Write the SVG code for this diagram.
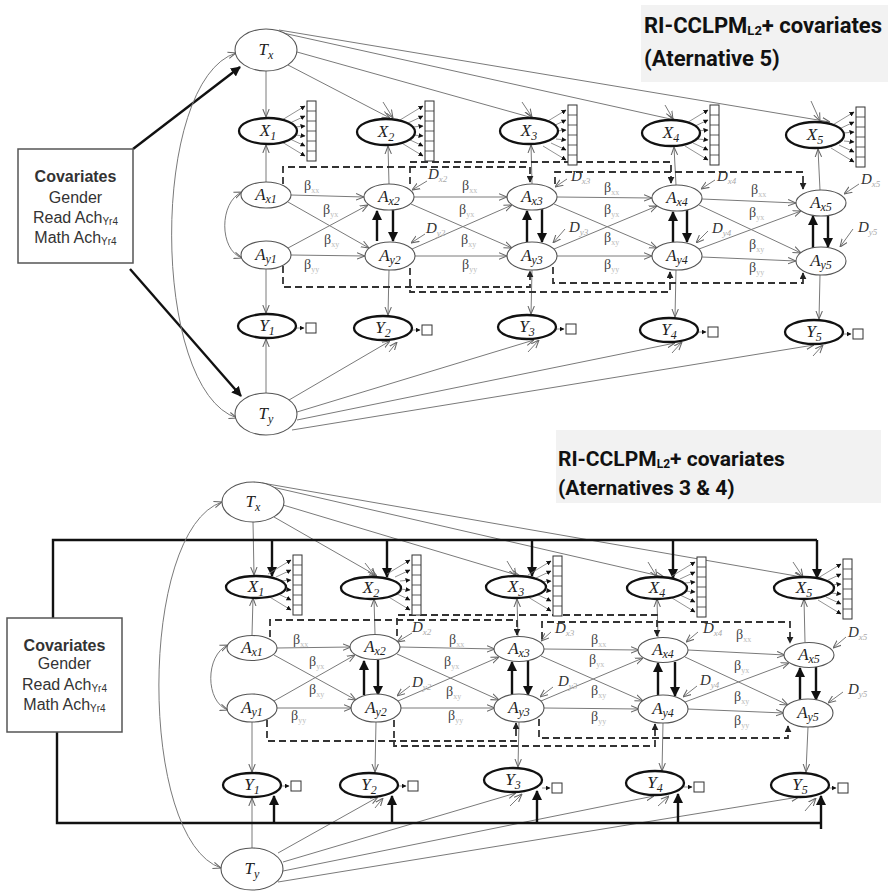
<svg xmlns="http://www.w3.org/2000/svg" width="889" height="891" viewBox="0 0 889 891">
<style>
.n{fill:#fff;stroke:#555;stroke-width:1.1}
.m{fill:#fff;stroke:#111;stroke-width:2.3}
.lab{font-family:"Liberation Serif",serif;font-style:italic;font-size:17px;fill:#222;text-anchor:middle}
.s{font-size:12px}
.c{stroke:#7a7a7a;stroke-width:1;fill:none;marker-end:url(#ah)}
.c2{stroke:#7a7a7a;stroke-width:1;fill:none;marker-start:url(#ah);marker-end:url(#ah)}
.k{stroke:#111;stroke-width:2.4;fill:none;marker-end:url(#ahk)}
.kl{stroke:#111;stroke-width:2.4;fill:none}
.d{stroke:#333;stroke-width:1.8;fill:none;stroke-dasharray:7 4;marker-end:url(#ahd)}
.ia{stroke:#777;stroke-width:0.8;marker-end:url(#ahs)}
.ib{fill:#fff;stroke:#333;stroke-width:1}
.b{font-family:"Liberation Serif",serif;font-size:14px;fill:#444}
.bs{font-size:8px;fill:#bbb}
.dl{font-family:"Liberation Serif",serif;font-style:italic;font-size:15px;fill:#333}
.ds{font-size:9px;fill:#aaa}
.cv{font-family:"Liberation Sans",Arial,sans-serif;font-size:16px;fill:#333;text-anchor:middle}
.cvb{font-weight:bold}
.cs{font-size:10px}
.cbox{fill:#fff;stroke:#555;stroke-width:1.5}
.tbox{fill:#f2f2f2;stroke:none}
.tt{font-family:Roboto,"Liberation Sans",sans-serif;font-weight:700;fill:#111}
</style>
<defs>
<marker id="ah" viewBox="0 0 10 10" refX="10" refY="5" markerWidth="8" markerHeight="8" markerUnits="userSpaceOnUse" orient="auto-start-reverse"><path d="M0,1L10,5L0,9" fill="none" stroke="#666" stroke-width="1.3"/></marker>
<marker id="ahk" viewBox="0 0 10 10" refX="9" refY="5" markerWidth="10" markerHeight="10" markerUnits="userSpaceOnUse" orient="auto"><path d="M0,0L10,5L0,10z" fill="#111"/></marker>
<marker id="ahs" viewBox="0 0 10 10" refX="9" refY="5" markerWidth="5" markerHeight="5" markerUnits="userSpaceOnUse" orient="auto"><path d="M0,0L10,5L0,10z" fill="#111"/></marker>
<marker id="ahd" viewBox="0 0 10 10" refX="9" refY="5" markerWidth="7" markerHeight="7" markerUnits="userSpaceOnUse" orient="auto"><path d="M0,0L10,5L0,10z" fill="#222"/></marker>
<g id="xind">
<line class="ia" x1="14" y1="-11" x2="37" y2="-25"/>
<line class="ia" x1="22" y1="-8" x2="37" y2="-15"/>
<line class="ia" x1="27" y1="-4" x2="37" y2="-5"/>
<line class="ia" x1="27" y1="4" x2="37" y2="5"/>
<line class="ia" x1="22" y1="8" x2="37" y2="15"/>
<line class="ia" x1="14" y1="11" x2="37" y2="25"/>
<rect class="ib" x="39" y="-30" width="9" height="60"/>
<path d="M39,-20H48M39,-10H48M39,0H48M39,10H48M39,20H48" stroke="#333" stroke-width="0.8"/>
</g>
<g id="ysq"><line class="ia" x1="29" y1="2" x2="37" y2="2"/><rect class="ib" x="39" y="-3" width="10" height="10"/></g>
</defs>
<rect width="889" height="891" fill="#fff"/>

<g id="title-top">
<rect class="tbox" x="641" y="5" width="247" height="77"/>
<text class="tt" x="644" y="33" font-size="22">RI-CCLPM<tspan font-size="13" dy="2">L2</tspan><tspan dy="-2">+ covariates</tspan></text>
<text class="tt" x="644" y="66" font-size="22">(Aternative 5)</text>
</g>
<g id="title-bottom">
<rect class="tbox" x="556" y="430" width="325" height="73"/>
<text class="tt" x="558" y="466" font-size="21">RI-CCLPM<tspan font-size="12" dy="2">L2</tspan><tspan dy="-2">+ covariates</tspan></text>
<text class="tt" x="558" y="495" font-size="21">(Aternatives 3 &amp; 4)</text>
</g>

<g id="connectors">
<g id="connectors-top">
<line class="c" x1="266" y1="71" x2="266" y2="117"/>
<line class="c" x1="288" y1="65" x2="390" y2="118"/>
<line class="c" x1="297" y1="52" x2="533" y2="118"/>
<line class="c" x1="283" y1="33" x2="675" y2="120"/>
<line class="c" x1="279" y1="30" x2="830" y2="122"/>
<line class="c" x1="383" y1="102" x2="393" y2="118"/>
<line class="c" x1="522" y1="102" x2="532" y2="117"/>
<line class="c" x1="665" y1="105" x2="673" y2="119"/>
<line class="c" x1="811" y1="101" x2="820" y2="121"/>
<line class="c" x1="266" y1="182" x2="266" y2="145"/>
<line class="c" x1="389" y1="184" x2="388" y2="146"/>
<line class="c" x1="532" y1="184" x2="531" y2="145"/>
<line class="c" x1="676" y1="185" x2="674" y2="147"/>
<line class="c" x1="820" y1="190" x2="818" y2="149"/>
<line class="c" x1="266" y1="269" x2="266" y2="313"/>
<line class="c" x1="389" y1="270" x2="388" y2="315"/>
<line class="c" x1="532" y1="270" x2="531" y2="314"/>
<line class="c" x1="676" y1="270" x2="675" y2="317"/>
<line class="c" x1="820" y1="275" x2="819" y2="319"/>
<line class="c" x1="266" y1="393" x2="266" y2="339"/>
<line class="c" x1="289" y1="400" x2="390" y2="341"/>
<line class="c" x1="297" y1="412" x2="534" y2="340"/>
<line class="c" x1="297" y1="420" x2="675" y2="343"/>
<line class="c" x1="292" y1="430" x2="814" y2="345"/>
<line class="c" x1="389" y1="352" x2="397" y2="342"/>
<line class="c" x1="528" y1="352" x2="539" y2="340"/>
<line class="c" x1="672" y1="353" x2="682" y2="342"/>
<line class="c" x1="813" y1="356" x2="823" y2="345"/>
<line class="c" x1="291" y1="195" x2="364" y2="197"/>
<line class="c" x1="414" y1="197" x2="507" y2="197"/>
<line class="c" x1="557" y1="197" x2="652" y2="198"/>
<line class="c" x1="702" y1="199" x2="796" y2="203"/>
<line class="c" x1="291" y1="255" x2="365" y2="256"/>
<line class="c" x1="415" y1="256" x2="507" y2="256"/>
<line class="c" x1="557" y1="256" x2="652" y2="256"/>
<line class="c" x1="702" y1="257" x2="796" y2="261"/>
<line class="c" x1="288" y1="202" x2="369" y2="248"/>
<line class="c" x1="288" y1="248" x2="368" y2="205"/>
<line class="c" x1="411" y1="204" x2="512" y2="248"/>
<line class="c" x1="412" y1="249" x2="512" y2="205"/>
<line class="c" x1="554" y1="204" x2="657" y2="248"/>
<line class="c" x1="554" y1="249" x2="657" y2="206"/>
<line class="c" x1="699" y1="205" x2="801" y2="253"/>
<line class="c" x1="699" y1="249" x2="801" y2="211"/>
<line class="c" x1="427" y1="181" x2="412" y2="190"/>
<line class="c" x1="567" y1="179" x2="555" y2="187"/>
<line class="c" x1="715" y1="180" x2="701" y2="189"/>
<line class="c" x1="859" y1="184" x2="844" y2="194"/>
<line class="c" x1="425" y1="234" x2="411" y2="243"/>
<line class="c" x1="565" y1="229" x2="553" y2="243"/>
<line class="c" x1="708" y1="231" x2="696" y2="243"/>
<line class="c" x1="853" y1="229" x2="840" y2="247"/>
<line class="k" x1="377" y1="241" x2="377" y2="211"/>
<line class="k" x1="393" y1="209" x2="393" y2="241"/>
<line class="k" x1="527" y1="242" x2="527" y2="211"/>
<line class="k" x1="542" y1="209" x2="542" y2="242"/>
<line class="k" x1="673" y1="243" x2="673" y2="212"/>
<line class="k" x1="687" y1="210" x2="687" y2="242"/>
<line class="k" x1="813" y1="248" x2="813" y2="216"/>
<line class="k" x1="828" y1="215" x2="828" y2="247"/>
<path class="d" d="M283,184V167H530V182"/>
<path class="d" d="M410,184V162H671V183"/>
<path class="d" d="M555,184V172H803V189"/>
<path class="d" d="M283,266V287H530V271"/>
<path class="d" d="M410,268V292H670V272"/>
<path class="d" d="M553,267V283H803V273"/>
<line class="k" x1="133" y1="149" x2="240" y2="67"/>
<line class="k" x1="130" y1="269" x2="241" y2="396"/>
<path class="c2" d="M236,53C150,80 150,390 237,418"/>
<path class="c2" d="M242,192C219,202 219,250 242,258"/>
</g>
<g id="connectors-bottom">
<line class="c" x1="253" y1="522" x2="254" y2="575"/>
<line class="c" x1="274" y1="517" x2="377" y2="576"/>
<line class="c" x1="283" y1="505" x2="520" y2="576"/>
<line class="c" x1="268" y1="486" x2="664" y2="577"/>
<line class="c" x1="262" y1="483" x2="802" y2="577"/>
<line class="c" x1="365" y1="563" x2="375" y2="576"/>
<line class="c" x1="507" y1="561" x2="516" y2="576"/>
<line class="c" x1="648" y1="562" x2="657" y2="577"/>
<line class="c" x1="793" y1="562" x2="803" y2="577"/>
<line class="c" x1="252" y1="635" x2="253" y2="598"/>
<line class="c" x1="375" y1="634" x2="374" y2="599"/>
<line class="c" x1="518" y1="636" x2="517" y2="599"/>
<line class="c" x1="658" y1="637" x2="657" y2="599"/>
<line class="c" x1="805" y1="642" x2="804" y2="599"/>
<line class="c" x1="252" y1="722" x2="252" y2="772"/>
<line class="c" x1="376" y1="722" x2="375" y2="772"/>
<line class="c" x1="519" y1="722" x2="518" y2="767"/>
<line class="c" x1="663" y1="723" x2="662" y2="771"/>
<line class="c" x1="808" y1="727" x2="806" y2="772"/>
<line class="c" x1="252" y1="848" x2="252" y2="798"/>
<line class="c" x1="278" y1="853" x2="378" y2="797"/>
<line class="c" x1="283" y1="862" x2="516" y2="793"/>
<line class="c" x1="283" y1="871" x2="654" y2="796"/>
<line class="c" x1="278" y1="882" x2="799" y2="797"/>
<line class="c" x1="375" y1="808" x2="383" y2="798"/>
<line class="c" x1="510" y1="806" x2="522" y2="794"/>
<line class="c" x1="658" y1="806" x2="669" y2="796"/>
<line class="c" x1="805" y1="811" x2="816" y2="798"/>
<line class="c" x1="277" y1="648" x2="351" y2="647"/>
<line class="c" x1="400" y1="647" x2="495" y2="649"/>
<line class="c" x1="544" y1="649" x2="639" y2="650"/>
<line class="c" x1="688" y1="650" x2="785" y2="655"/>
<line class="c" x1="277" y1="708" x2="352" y2="708"/>
<line class="c" x1="401" y1="708" x2="495" y2="708"/>
<line class="c" x1="544" y1="708" x2="639" y2="709"/>
<line class="c" x1="688" y1="709" x2="784" y2="713"/>
<line class="c" x1="274" y1="655" x2="356" y2="700"/>
<line class="c" x1="274" y1="701" x2="355" y2="655"/>
<line class="c" x1="397" y1="654" x2="499" y2="700"/>
<line class="c" x1="398" y1="701" x2="499" y2="657"/>
<line class="c" x1="541" y1="656" x2="643" y2="701"/>
<line class="c" x1="541" y1="701" x2="643" y2="658"/>
<line class="c" x1="685" y1="657" x2="788" y2="705"/>
<line class="c" x1="685" y1="702" x2="789" y2="663"/>
<line class="c" x1="412" y1="633" x2="397" y2="642"/>
<line class="c" x1="551" y1="632" x2="541" y2="641"/>
<line class="c" x1="698" y1="632" x2="686" y2="642"/>
<line class="c" x1="846" y1="637" x2="833" y2="648"/>
<line class="c" x1="410" y1="686" x2="397" y2="696"/>
<line class="c" x1="553" y1="687" x2="540" y2="697"/>
<line class="c" x1="697" y1="686" x2="683" y2="697"/>
<line class="c" x1="843" y1="692" x2="828" y2="703"/>
<line class="k" x1="364" y1="695" x2="364" y2="661"/>
<line class="k" x1="378" y1="660" x2="378" y2="695"/>
<line class="k" x1="512" y1="695" x2="512" y2="662"/>
<line class="k" x1="528" y1="661" x2="528" y2="695"/>
<line class="k" x1="658" y1="696" x2="658" y2="663"/>
<line class="k" x1="675" y1="662" x2="675" y2="696"/>
<line class="k" x1="800" y1="700" x2="800" y2="668"/>
<line class="k" x1="816" y1="667" x2="816" y2="700"/>
<path class="d" d="M270,637V620H517V635"/>
<path class="d" d="M397,636V615H657V636"/>
<path class="d" d="M542,639V622H790V643"/>
<path class="d" d="M267,720V741H516V723"/>
<path class="d" d="M394,720V746H655V724"/>
<path class="d" d="M539,719V738H788V726"/>
<path class="kl" d="M53,618V540H817"/>
<line class="k" x1="272" y1="540" x2="272" y2="576"/>
<line class="k" x1="387" y1="540" x2="387" y2="577"/>
<line class="k" x1="532" y1="540" x2="532" y2="576"/>
<line class="k" x1="673" y1="540" x2="673" y2="578"/>
<line class="k" x1="817" y1="540" x2="817" y2="578"/>
<path class="kl" d="M57,732V823H822"/>
<line class="k" x1="274" y1="823" x2="274" y2="796"/>
<line class="k" x1="392" y1="823" x2="392" y2="796"/>
<line class="k" x1="537" y1="823" x2="537" y2="791"/>
<line class="k" x1="678" y1="823" x2="678" y2="794"/>
<line class="k" x1="821" y1="829" x2="821" y2="796"/>
<path class="c2" d="M222,502C138,530 138,840 221,868"/>
<path class="c2" d="M228,645C205,655 205,702 228,710"/>
</g>
</g>

<g id="path-labels">
<text class="b" x="304" y="190">β<tspan class="bs" dy="3">xx</tspan></text>
<text class="b" x="323" y="214">β<tspan class="bs" dy="3">yx</tspan></text>
<text class="b" x="324" y="244">β<tspan class="bs" dy="3">xy</tspan></text>
<text class="b" x="304" y="269">β<tspan class="bs" dy="3">yy</tspan></text>
<text class="b" x="462" y="190">β<tspan class="bs" dy="3">xx</tspan></text>
<text class="b" x="459" y="214">β<tspan class="bs" dy="3">yx</tspan></text>
<text class="b" x="461" y="244">β<tspan class="bs" dy="3">xy</tspan></text>
<text class="b" x="462" y="269">β<tspan class="bs" dy="3">yy</tspan></text>
<text class="b" x="604" y="192">β<tspan class="bs" dy="3">xx</tspan></text>
<text class="b" x="604" y="214">β<tspan class="bs" dy="3">yx</tspan></text>
<text class="b" x="604" y="242">β<tspan class="bs" dy="3">xy</tspan></text>
<text class="b" x="604" y="269">β<tspan class="bs" dy="3">yy</tspan></text>
<text class="b" x="751" y="194">β<tspan class="bs" dy="3">xx</tspan></text>
<text class="b" x="749" y="217">β<tspan class="bs" dy="3">yx</tspan></text>
<text class="b" x="749" y="249">β<tspan class="bs" dy="3">xy</tspan></text>
<text class="b" x="749" y="272">β<tspan class="bs" dy="3">yy</tspan></text>
<text class="dl" x="428" y="179">D<tspan class="ds" dy="3">x2</tspan></text>
<text class="dl" x="426" y="233">D<tspan class="ds" dy="3">y2</tspan></text>
<text class="dl" x="571" y="181">D<tspan class="ds" dy="3">x3</tspan></text>
<text class="dl" x="569" y="232">D<tspan class="ds" dy="3">y3</tspan></text>
<text class="dl" x="717" y="181">D<tspan class="ds" dy="3">x4</tspan></text>
<text class="dl" x="712" y="233">D<tspan class="ds" dy="3">y4</tspan></text>
<text class="dl" x="861" y="184">D<tspan class="ds" dy="3">x5</tspan></text>
<text class="dl" x="858" y="232">D<tspan class="ds" dy="3">y5</tspan></text>
<text class="b" x="293" y="644">β<tspan class="bs" dy="3">xx</tspan></text>
<text class="b" x="309" y="666">β<tspan class="bs" dy="3">yx</tspan></text>
<text class="b" x="309" y="694">β<tspan class="bs" dy="3">xy</tspan></text>
<text class="b" x="291" y="720">β<tspan class="bs" dy="3">yy</tspan></text>
<text class="b" x="449" y="644">β<tspan class="bs" dy="3">xx</tspan></text>
<text class="b" x="444" y="666">β<tspan class="bs" dy="3">yx</tspan></text>
<text class="b" x="446" y="696">β<tspan class="bs" dy="3">xy</tspan></text>
<text class="b" x="448" y="720">β<tspan class="bs" dy="3">yy</tspan></text>
<text class="b" x="591" y="644">β<tspan class="bs" dy="3">xx</tspan></text>
<text class="b" x="589" y="664">β<tspan class="bs" dy="3">yx</tspan></text>
<text class="b" x="591" y="695">β<tspan class="bs" dy="3">xy</tspan></text>
<text class="b" x="591" y="721">β<tspan class="bs" dy="3">yy</tspan></text>
<text class="b" x="736" y="639">β<tspan class="bs" dy="3">xx</tspan></text>
<text class="b" x="734" y="670">β<tspan class="bs" dy="3">yx</tspan></text>
<text class="b" x="734" y="701">β<tspan class="bs" dy="3">xy</tspan></text>
<text class="b" x="734" y="725">β<tspan class="bs" dy="3">yy</tspan></text>
<text class="dl" x="412" y="632">D<tspan class="ds" dy="3">x2</tspan></text>
<text class="dl" x="412" y="687">D<tspan class="ds" dy="3">y2</tspan></text>
<text class="dl" x="555" y="633">D<tspan class="ds" dy="3">x3</tspan></text>
<text class="dl" x="558" y="686">D<tspan class="ds" dy="3">y3</tspan></text>
<text class="dl" x="703" y="633">D<tspan class="ds" dy="3">x4</tspan></text>
<text class="dl" x="700" y="685">D<tspan class="ds" dy="3">y4</tspan></text>
<text class="dl" x="848" y="637">D<tspan class="ds" dy="3">x5</tspan></text>
<text class="dl" x="848" y="694">D<tspan class="ds" dy="3">y5</tspan></text>
</g>

<g id="top-cov"><rect class="cbox" x="18" y="149" width="115" height="114"/>
<text class="cv cvb" x="75.5" y="182">Covariates</text>
<text class="cv" x="75.5" y="203">Gender</text>
<text class="cv" x="75.5" y="223">Read Ach<tspan class="cs" dy="2">Yr4</tspan></text>
<text class="cv" x="75.5" y="243">Math Ach<tspan class="cs" dy="2">Yr4</tspan></text></g>
<g id="top-Tx"><ellipse class="n" cx="266" cy="50" rx="31" ry="21"/><text class="lab" x="266" y="55">T<tspan class="s" dy="4">x</tspan></text></g>
<g id="top-Ty"><ellipse class="n" cx="266" cy="414" rx="31" ry="21"/><text class="lab" x="266" y="419">T<tspan class="s" dy="4">y</tspan></text></g>
<g id="top-X1"><use href="#xind" x="268" y="131"/><ellipse class="m" cx="268" cy="131" rx="29" ry="13"/><text class="lab" x="268" y="136">X<tspan class="s" dy="4">1</tspan></text></g>
<g id="top-X2"><use href="#xind" x="386" y="131"/><ellipse class="m" cx="386" cy="132" rx="29" ry="13"/><text class="lab" x="386" y="137">X<tspan class="s" dy="4">2</tspan></text></g>
<g id="top-X3"><use href="#xind" x="529" y="135"/><ellipse class="m" cx="529" cy="131" rx="29" ry="13"/><text class="lab" x="529" y="136">X<tspan class="s" dy="4">3</tspan></text></g>
<g id="top-X4"><use href="#xind" x="671" y="135"/><ellipse class="m" cx="671" cy="133" rx="29" ry="13"/><text class="lab" x="671" y="138">X<tspan class="s" dy="4">4</tspan></text></g>
<g id="top-X5"><use href="#xind" x="817" y="137"/><ellipse class="m" cx="815" cy="135" rx="29" ry="13"/><text class="lab" x="815" y="140">X<tspan class="s" dy="4">5</tspan></text></g>
<g id="top-Ax1"><ellipse class="n" cx="266" cy="195" rx="25" ry="13"/><text class="lab" x="266" y="200">A<tspan class="s" dy="3">x1</tspan></text></g>
<g id="top-Ax2"><ellipse class="n" cx="389" cy="197" rx="25" ry="13"/><text class="lab" x="389" y="202">A<tspan class="s" dy="3">x2</tspan></text></g>
<g id="top-Ax3"><ellipse class="n" cx="532" cy="197" rx="25" ry="13"/><text class="lab" x="532" y="202">A<tspan class="s" dy="3">x3</tspan></text></g>
<g id="top-Ax4"><ellipse class="n" cx="677" cy="198" rx="25" ry="13"/><text class="lab" x="677" y="203">A<tspan class="s" dy="3">x4</tspan></text></g>
<g id="top-Ax5"><ellipse class="n" cx="821" cy="203" rx="25" ry="13"/><text class="lab" x="821" y="208">A<tspan class="s" dy="3">x5</tspan></text></g>
<g id="top-Ay1"><ellipse class="n" cx="266" cy="255" rx="25" ry="14"/><text class="lab" x="266" y="260">A<tspan class="s" dy="3">y1</tspan></text></g>
<g id="top-Ay2"><ellipse class="n" cx="390" cy="256" rx="25" ry="14"/><text class="lab" x="390" y="261">A<tspan class="s" dy="3">y2</tspan></text></g>
<g id="top-Ay3"><ellipse class="n" cx="532" cy="256" rx="25" ry="14"/><text class="lab" x="532" y="261">A<tspan class="s" dy="3">y3</tspan></text></g>
<g id="top-Ay4"><ellipse class="n" cx="677" cy="256" rx="25" ry="14"/><text class="lab" x="677" y="261">A<tspan class="s" dy="3">y4</tspan></text></g>
<g id="top-Ay5"><ellipse class="n" cx="821" cy="261" rx="25" ry="14"/><text class="lab" x="821" y="266">A<tspan class="s" dy="3">y5</tspan></text></g>
<g id="top-Y1"><use href="#ysq" x="267" y="326"/><ellipse class="m" cx="267" cy="326" rx="29" ry="12"/><text class="lab" x="267" y="331">Y<tspan class="s" dy="4">1</tspan></text></g>
<g id="top-Y2"><use href="#ysq" x="383" y="328"/><ellipse class="m" cx="383" cy="328" rx="29" ry="12"/><text class="lab" x="383" y="333">Y<tspan class="s" dy="4">2</tspan></text></g>
<g id="top-Y3"><use href="#ysq" x="527" y="327"/><ellipse class="m" cx="527" cy="327" rx="29" ry="12"/><text class="lab" x="527" y="332">Y<tspan class="s" dy="4">3</tspan></text></g>
<g id="top-Y4"><use href="#ysq" x="669" y="330"/><ellipse class="m" cx="669" cy="330" rx="29" ry="12"/><text class="lab" x="669" y="335">Y<tspan class="s" dy="4">4</tspan></text></g>
<g id="top-Y5"><use href="#ysq" x="814" y="332"/><ellipse class="m" cx="814" cy="332" rx="29" ry="12"/><text class="lab" x="814" y="337">Y<tspan class="s" dy="4">5</tspan></text></g>

<g id="bot-cov"><rect class="cbox" x="7" y="618" width="115" height="114"/>
<text class="cv cvb" x="64.5" y="651">Covariates</text>
<text class="cv" x="64.5" y="669">Gender</text>
<text class="cv" x="64.5" y="690">Read Ach<tspan class="cs" dy="2">Yr4</tspan></text>
<text class="cv" x="64.5" y="710">Math Ach<tspan class="cs" dy="2">Yr4</tspan></text></g>
<g id="bot-Tx"><ellipse class="n" cx="253" cy="502" rx="31" ry="20"/><text class="lab" x="253" y="507">T<tspan class="s" dy="4">x</tspan></text></g>
<g id="bot-Ty"><ellipse class="n" cx="252" cy="869" rx="31" ry="21"/><text class="lab" x="252" y="874">T<tspan class="s" dy="4">y</tspan></text></g>
<g id="bot-X1"><use href="#xind" x="254" y="585"/><ellipse class="m" cx="256" cy="587" rx="30" ry="11"/><text class="lab" x="256" y="592">X<tspan class="s" dy="4">1</tspan></text></g>
<g id="bot-X2"><use href="#xind" x="373" y="585"/><ellipse class="m" cx="371" cy="588" rx="30" ry="11"/><text class="lab" x="371" y="593">X<tspan class="s" dy="4">2</tspan></text></g>
<g id="bot-X3"><use href="#xind" x="514" y="586"/><ellipse class="m" cx="516" cy="587" rx="30" ry="11"/><text class="lab" x="516" y="592">X<tspan class="s" dy="4">3</tspan></text></g>
<g id="bot-X4"><use href="#xind" x="658" y="587"/><ellipse class="m" cx="657" cy="588" rx="30" ry="11"/><text class="lab" x="657" y="593">X<tspan class="s" dy="4">4</tspan></text></g>
<g id="bot-X5"><use href="#xind" x="804" y="589"/><ellipse class="m" cx="804" cy="588" rx="30" ry="11"/><text class="lab" x="804" y="593">X<tspan class="s" dy="4">5</tspan></text></g>
<g id="bot-Ax1"><ellipse class="n" cx="252" cy="648" rx="25" ry="12.5"/><text class="lab" x="252" y="653">A<tspan class="s" dy="3">x1</tspan></text></g>
<g id="bot-Ax2"><ellipse class="n" cx="375" cy="647" rx="25" ry="12.5"/><text class="lab" x="375" y="652">A<tspan class="s" dy="3">x2</tspan></text></g>
<g id="bot-Ax3"><ellipse class="n" cx="519" cy="649" rx="25" ry="12.5"/><text class="lab" x="519" y="654">A<tspan class="s" dy="3">x3</tspan></text></g>
<g id="bot-Ax4"><ellipse class="n" cx="663" cy="650" rx="25" ry="12.5"/><text class="lab" x="663" y="655">A<tspan class="s" dy="3">x4</tspan></text></g>
<g id="bot-Ax5"><ellipse class="n" cx="809" cy="655" rx="25" ry="12.5"/><text class="lab" x="809" y="660">A<tspan class="s" dy="3">x5</tspan></text></g>
<g id="bot-Ay1"><ellipse class="n" cx="252" cy="708" rx="25" ry="14"/><text class="lab" x="252" y="713">A<tspan class="s" dy="3">y1</tspan></text></g>
<g id="bot-Ay2"><ellipse class="n" cx="376" cy="708" rx="25" ry="14"/><text class="lab" x="376" y="713">A<tspan class="s" dy="3">y2</tspan></text></g>
<g id="bot-Ay3"><ellipse class="n" cx="519" cy="708" rx="25" ry="14"/><text class="lab" x="519" y="713">A<tspan class="s" dy="3">y3</tspan></text></g>
<g id="bot-Ay4"><ellipse class="n" cx="663" cy="709" rx="25" ry="14"/><text class="lab" x="663" y="714">A<tspan class="s" dy="3">y4</tspan></text></g>
<g id="bot-Ay5"><ellipse class="n" cx="808" cy="713" rx="25" ry="14"/><text class="lab" x="808" y="718">A<tspan class="s" dy="3">y5</tspan></text></g>
<g id="bot-Y1"><use href="#ysq" x="252" y="784"/><ellipse class="m" cx="252" cy="785" rx="29" ry="12"/><text class="lab" x="252" y="790">Y<tspan class="s" dy="4">1</tspan></text></g>
<g id="bot-Y2"><use href="#ysq" x="369" y="784"/><ellipse class="m" cx="369" cy="785" rx="29" ry="12"/><text class="lab" x="369" y="790">Y<tspan class="s" dy="4">2</tspan></text></g>
<g id="bot-Y3"><use href="#ysq" x="513" y="786"/><ellipse class="m" cx="513" cy="780" rx="29" ry="12"/><text class="lab" x="513" y="785">Y<tspan class="s" dy="4">3</tspan></text></g>
<g id="bot-Y4"><use href="#ysq" x="655" y="785"/><ellipse class="m" cx="655" cy="783" rx="29" ry="12"/><text class="lab" x="655" y="788">Y<tspan class="s" dy="4">4</tspan></text></g>
<g id="bot-Y5"><use href="#ysq" x="799" y="786"/><ellipse class="m" cx="800" cy="785" rx="29" ry="12"/><text class="lab" x="800" y="790">Y<tspan class="s" dy="4">5</tspan></text></g>
</svg>
